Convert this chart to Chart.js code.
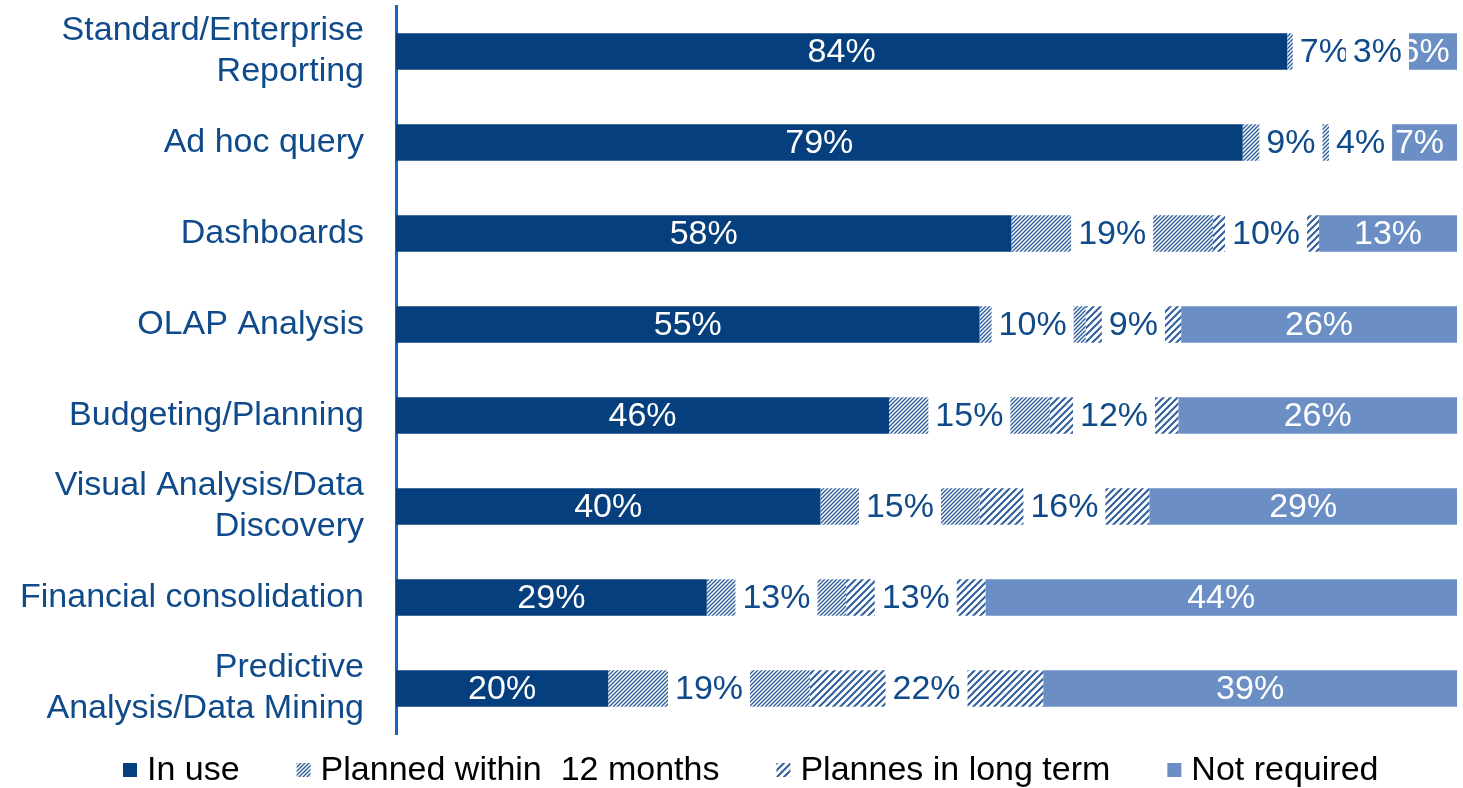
<!DOCTYPE html>
<html>
<head>
<meta charset="utf-8">
<script src="https://cdn.jsdelivr.net/npm/chart.js@4/dist/chart.umd.min.js"></script>
<style>
  body { margin: 0; background: #fff; }
  #wrap { width: 1463px; height: 788px; }
</style>
</head>
<body>
<div id="wrap"><canvas id="usageChart"></canvas></div>
<script>
// Data
const categories = [
  ["Standard/Enterprise", "Reporting"],
  "Ad hoc query",
  "Dashboards",
  "OLAP Analysis",
  "Budgeting/Planning",
  ["Visual Analysis/Data", "Discovery"],
  "Financial consolidation",
  ["Predictive", "Analysis/Data Mining"],
];
const inUse = [84, 79, 58, 55, 46, 40, 29, 20];
const planned12 = [7, 9, 19, 10, 15, 15, 13, 19];
const plannedLong = [3, 4, 10, 9, 12, 16, 13, 22];
const notRequired = [6, 7, 13, 26, 26, 29, 44, 39];
const seriesNames = ["In use", "Planned within  12 months", "Plannes in long term", "Not required"];

const navy = "#063f7d";
const lightBlue = "#6b8fc5";
const hatchColor = "#2f5e9e";
const labelBlue = "#0f4a8a";
const fontFamily = "'Liberation Sans', Arial, sans-serif";

Chart.defaults.font.family = fontFamily;

// Diagonal hatch fill ("/" lines on white)
function makeHatch(size, lineWidth) {
  const c = document.createElement("canvas");
  c.width = size;
  c.height = size;
  const ctx = c.getContext("2d");
  ctx.fillStyle = "#fff";
  ctx.fillRect(0, 0, size, size);
  ctx.strokeStyle = hatchColor;
  ctx.lineWidth = lineWidth;
  ctx.beginPath();
  ctx.moveTo(0, size);
  ctx.lineTo(size, 0);
  ctx.moveTo(-size / 2, size / 2);
  ctx.lineTo(size / 2, -size / 2);
  ctx.moveTo(size / 2, size * 1.5);
  ctx.lineTo(size * 1.5, size / 2);
  ctx.stroke();
  return ctx.createPattern(c, "repeat");
}
const denseHatch = makeHatch(4, 1.4);
const wideHatch = makeHatch(7, 2);

// 100% stacked: each row scaled to its own total
const rowTotals = inUse.map((v, i) => v + planned12[i] + plannedLong[i] + notRequired[i]);
const share = (arr) => arr.map((v, i) => (v / rowTotals[i]) * 100);

const rawSeries = [inUse, planned12, plannedLong, notRequired];
const fills = [navy, denseHatch, wideHatch, lightBlue];
const hatched = [false, true, true, false];

// Value labels; hatched segments get a white box behind the text
const segmentLabels = {
  id: "segmentLabels",
  afterDatasetsDraw(chart) {
    const ctx = chart.ctx;
    ctx.save();
    ctx.font = "34px " + fontFamily;
    ctx.textAlign = "center";
    ctx.textBaseline = "middle";
    chart.data.datasets.forEach((ds, i) => {
      const meta = chart.getDatasetMeta(i);
      meta.data.forEach((bar, j) => {
        const p = bar.getProps(["x", "y", "base", "height"], true);
        const cx = (p.x + p.base) / 2;
        const text = rawSeries[i][j] + "%";
        if (hatched[i]) {
          const w = ctx.measureText(text).width + 14;
          ctx.fillStyle = "#fff";
          ctx.fillRect(cx - w / 2, p.y - p.height / 2 - 1, w, p.height + 2);
          ctx.fillStyle = labelBlue;
        } else {
          ctx.fillStyle = "#fff";
        }
        ctx.fillText(text, cx, p.y + 1);
      });
    });
    ctx.restore();
  },
};

// Legend row under the plot, using the dataset fills
const bottomLegend = {
  id: "bottomLegend",
  afterDraw(chart) {
    const ctx = chart.ctx;
    ctx.save();
    ctx.font = "34px " + fontFamily;
    ctx.textBaseline = "middle";
    let x = 123;
    const y = 770;
    chart.data.datasets.forEach((ds) => {
      ctx.fillStyle = ds.backgroundColor;
      ctx.fillRect(x, y - 7, 14, 14);
      ctx.fillStyle = "#000";
      ctx.fillText(ds.label, x + 24, y + 1);
      x += 24 + ctx.measureText(ds.label).width + 57;
    });
    ctx.restore();
  },
};

new Chart(document.getElementById("usageChart"), {
  type: "bar",
  data: {
    labels: categories,
    datasets: rawSeries.map((arr, i) => ({
      label: seriesNames[i],
      data: share(arr),
      backgroundColor: fills[i],
      borderWidth: 0,
      barPercentage: 0.4,
      categoryPercentage: 1,
    })),
  },
  options: {
    indexAxis: "y",
    responsive: true,
    maintainAspectRatio: false,
    animation: false,
    layout: { padding: { top: 6, right: 6, bottom: 54, left: 0 } },
    scales: {
      x: { stacked: true, min: 0, max: 100, display: false },
      y: {
        stacked: true,
        grid: { display: false, drawTicks: false },
        border: { display: true, color: "#1766c4", width: 3 },
        ticks: {
          color: labelBlue,
          padding: 32,
          font: { size: 34, lineHeight: 1.2 },
        },
        afterFit(scale) {
          scale.width = 396;
          scale.paddingTop = 0;
          scale.paddingBottom = 0;
        },
      },
    },
    plugins: {
      legend: { display: false },
      tooltip: { enabled: false },
    },
  },
  plugins: [segmentLabels, bottomLegend],
});
</script>
</body>
</html>
